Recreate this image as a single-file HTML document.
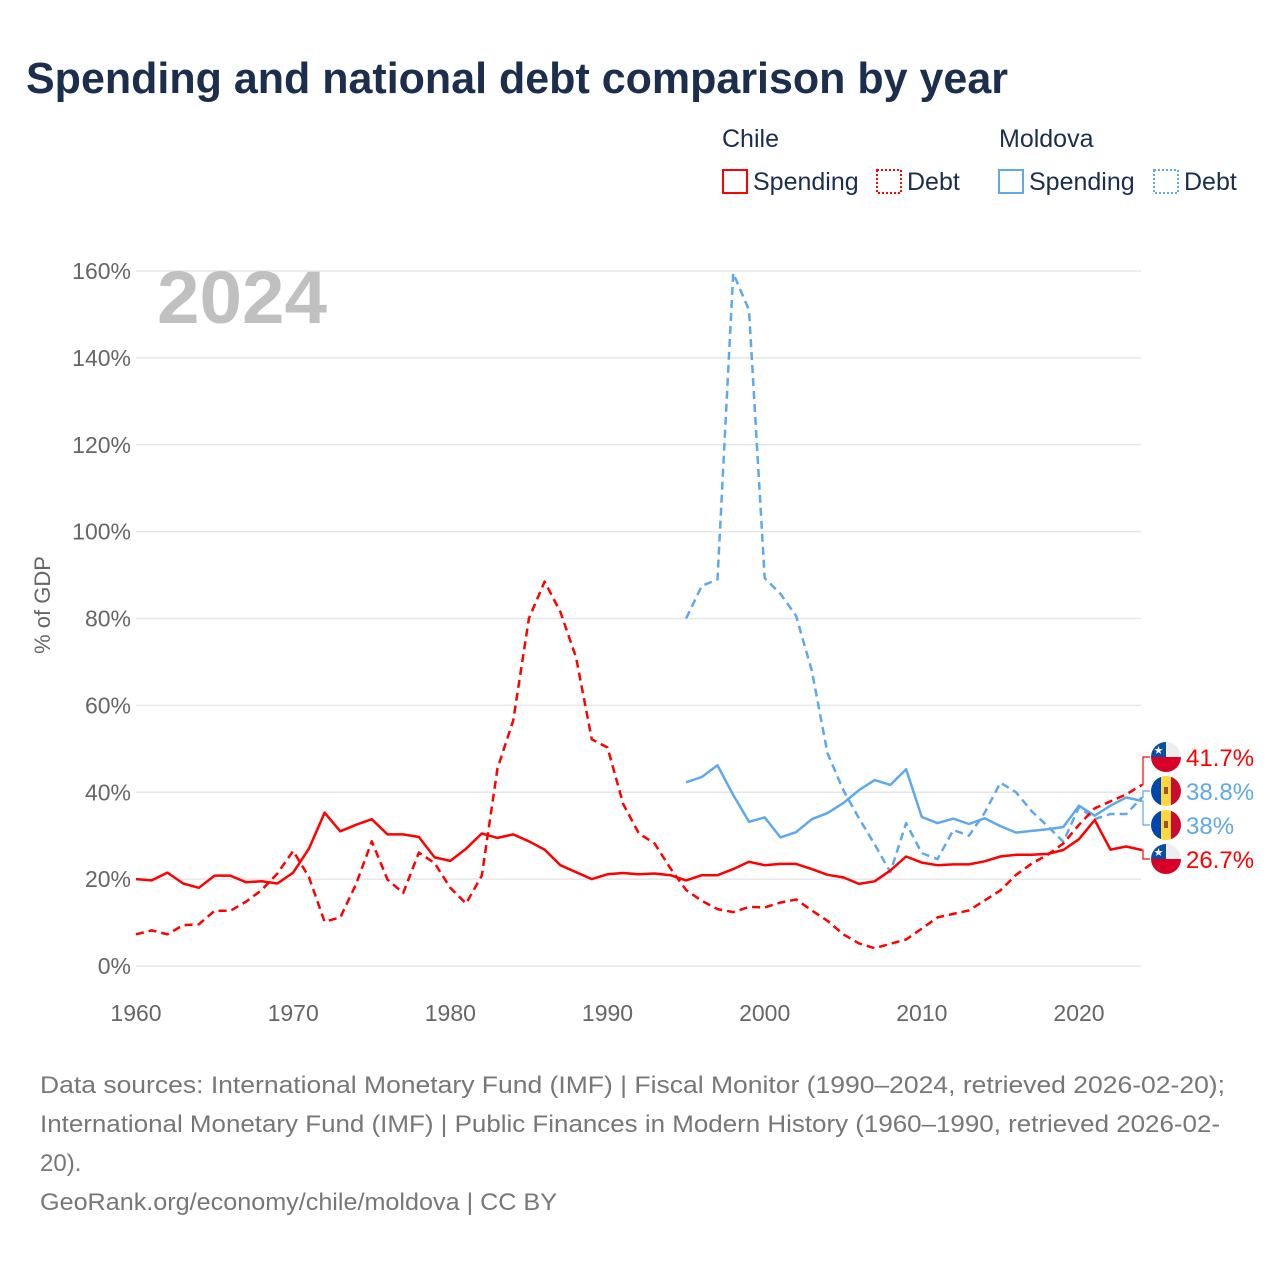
<!DOCTYPE html>
<html><head><meta charset="utf-8"><style>
body{margin:0;width:1280px;height:1280px;background:#fff;font-family:"Liberation Sans",sans-serif;overflow:hidden}
svg text{font-family:"Liberation Sans",sans-serif}
</style></head><body>
<svg id="c" width="1280" height="1280" xmlns="http://www.w3.org/2000/svg">
<text x="26" y="93" font-size="44" font-weight="bold" fill="#1b2e4d" textLength="982" lengthAdjust="spacingAndGlyphs">Spending and national debt comparison by year</text>
<g font-size="25" fill="#1b2e4d">
<text x="722" y="147" fill="#1b2e4d">Chile</text>
<text x="999" y="147" fill="#1b2e4d">Moldova</text>
<rect x="723" y="170" width="24" height="23" fill="none" stroke="#f00" stroke-width="2"/>
<text x="753" y="190">Spending</text>
<rect x="877" y="170" width="24" height="23" fill="none" stroke="#f00" stroke-width="2" stroke-dasharray="2,2"/>
<text x="907" y="190">Debt</text>
<rect x="999" y="170" width="24" height="23" fill="none" stroke="#5ea8ec" stroke-width="2"/>
<text x="1029" y="190">Spending</text>
<rect x="1154" y="170" width="24" height="23" fill="none" stroke="#5ea8ec" stroke-width="2" stroke-dasharray="2,2"/>
<text x="1184" y="190">Debt</text>
</g>
<g id="grid"></g>
<text x="157" y="323" font-size="74" font-weight="bold" fill="#c0c0c0" textLength="170" lengthAdjust="spacingAndGlyphs">2024</text>
<text transform="translate(50,605) rotate(-90)" text-anchor="middle" font-size="22" fill="#666">% of GDP</text>
<g id="lines"></g>
<g id="labels"></g>
<g font-size="24" fill="#777">
<text x="40" y="1093" textLength="1185" lengthAdjust="spacingAndGlyphs">Data sources: International Monetary Fund (IMF) | Fiscal Monitor (1990–2024, retrieved 2026-02-20);</text>
<text x="40" y="1132" textLength="1180" lengthAdjust="spacingAndGlyphs">International Monetary Fund (IMF) | Public Finances in Modern History (1960–1990, retrieved 2026-02-</text>
<text x="40" y="1171">20).</text>
<text x="40" y="1210" textLength="517" lengthAdjust="spacingAndGlyphs">GeoRank.org/economy/chile/moldova | CC BY</text>
</g>
</svg>
<script>
const yTicks=[0,20,40,60,80,100,120,140,160];
const xTicks=[1960,1970,1980,1990,2000,2010,2020];
const chileYears0=1960;
const chileSpending=[20,19.7,21.5,19,18,20.8,20.8,19.3,19.5,19,21.5,27,35.3,31,32.5,33.8,30.3,30.3,29.7,25,24.2,27,30.5,29.5,30.3,28.7,26.8,23.2,21.6,20,21.1,21.4,21.1,21.3,20.9,19.7,20.9,20.9,22.3,24,23.2,23.5,23.5,22.3,21,20.4,18.9,19.5,22,25.2,23.8,23.2,23.4,23.4,24.1,25.2,25.6,25.6,25.8,26.7,29.2,33.6,26.8,27.5,26.7];
const chileDebt=[7.3,8.2,7.3,9.4,9.6,12.7,12.7,14.8,17.5,21.3,26.5,20.5,10.2,11.2,18.8,28.7,19.9,16.8,26.1,23.7,18,14.4,20.8,45.5,56.5,80,88.5,81.5,71,52.2,50.3,37.3,30.5,28.2,22.5,17.5,15,13.1,12.4,13.6,13.5,14.6,15.3,12.8,10.4,7.3,5.2,4.1,5.1,6.1,8.6,11.2,12,12.8,15.1,17.4,21,23.6,25.6,28.2,32.5,36.3,37.9,39.5,41.7];
const moldovaYears0=1995;
const moldovaSpending=[42.3,43.5,46.2,39.4,33.2,34.2,29.6,30.8,33.8,35.2,37.5,40.5,42.8,41.7,45.3,34.3,32.9,33.9,32.7,34,32.2,30.7,31.1,31.5,32,36.9,34.6,36.9,38.8,38];
const moldovaDebt=[80,87.5,89,159.5,151,89.3,85.7,80.6,68,49,40.5,34,28,21.6,32.9,26,24.6,31.3,30,35.3,42.2,40,35.6,32.2,28.6,36.6,33.8,35,35,38.8];
const NS='http://www.w3.org/2000/svg';
const X=y=>136+(y-1960)*(1079-136)/60;
const Y=v=>966-v*(966-271)/160;
function mk(t,a,p){const e=document.createElementNS(NS,t);for(const k in a)e.setAttribute(k,a[k]);p.appendChild(e);return e;}
const grid=document.getElementById('grid');
yTicks.forEach(v=>{
 const l=mk('line',{x1:136,x2:1141,y1:Y(v),y2:Y(v),stroke:'#e6e6e6','stroke-width':1.5},grid);
 
 
 const t=mk('text',{x:131,y:Y(v)+8,'text-anchor':'end','font-size':23,fill:'#666'},grid);
 t.textContent=v+'%';
 
 
});
xTicks.forEach(yr=>{
 const t=mk('text',{x:X(yr),y:1021,'text-anchor':'middle','font-size':23,fill:'#666'},grid);
 t.textContent=yr;
 
 
});
const lines=document.getElementById('lines');
function line(arr,y0,col,dash,name){
 const d=arr.map((v,i)=>(i?'L':'M')+X(y0+i).toFixed(1)+','+Y(v).toFixed(1)).join('');
 const p=mk('path',{d:d,fill:'none',stroke:col,'stroke-width':2.5,'stroke-linejoin':'round'},lines);
 if(dash)p.setAttribute('stroke-dasharray','8,5');
 
 
}
line(moldovaDebt,moldovaYears0,'#5ea8ec',true,'moldova-debt-line');
line(moldovaSpending,moldovaYears0,'#5ea8ec',false,'moldova-spending-line');
line(chileDebt,chileYears0,'#f00',true,'chile-debt-line');
line(chileSpending,chileYears0,'#f00',false,'chile-spending-line');
const lab=document.getElementById('labels');
const ends=[
 {v:chileDebt[chileDebt.length-1],ly:757,c:'#f00',f:'cl',n:'chile-debt'},
 {v:moldovaDebt[moldovaDebt.length-1],ly:791,c:'#5ea8ec',f:'md',n:'moldova-debt'},
 {v:moldovaSpending[moldovaSpending.length-1],ly:825,c:'#5ea8ec',f:'md',n:'moldova-spending'},
 {v:chileSpending[chileSpending.length-1],ly:859,c:'#f00',f:'cl',n:'chile-spending'}];
ends.forEach(e=>{
 const g=mk('g',{},lab);
 
 
 mk('path',{d:`M1141,${Y(e.v)}H1143V${e.ly}H1150`,fill:'none',stroke:e.c,'stroke-width':1.2},g);
 const cx=1166,cy=e.ly;
 mk('clipPath',{id:'c'+cy},g).appendChild(document.createElementNS(NS,'circle')).setAttribute('r',15);
 const cc=g.lastChild.firstChild;cc.setAttribute('cx',cx);cc.setAttribute('cy',cy);
 const f=mk('g',{'clip-path':`url(#c${cy})`},g);
 if(e.f==='cl'){
  mk('rect',{x:cx-15,y:cy-15,width:30,height:15,fill:'#eee'},f);
  mk('rect',{x:cx-15,y:cy-15,width:15,height:15,fill:'#0b4ea2'},f);
  mk('rect',{x:cx-15,y:cy,width:30,height:15,fill:'#d80027'},f);
  mk('text',{x:cx-7.5,y:cy-3,'text-anchor':'middle','font-size':11,fill:'#fff'},f).textContent='★';
 }else{
  mk('rect',{x:cx-15,y:cy-15,width:10,height:30,fill:'#0046ae'},f);
  mk('rect',{x:cx-5,y:cy-15,width:10,height:30,fill:'#ffd83d'},f);
  mk('rect',{x:cx+5,y:cy-15,width:10,height:30,fill:'#cc092f'},f);
  mk('rect',{x:cx-2,y:cy-4,width:4,height:7,fill:'#a0522d'},f);
 }
 const t=mk('text',{x:1186,y:cy+9,'font-size':24,fill:e.c},g);
 t.textContent=(Math.round(e.v*10)/10)+'%';
});
</script>
</body></html>
